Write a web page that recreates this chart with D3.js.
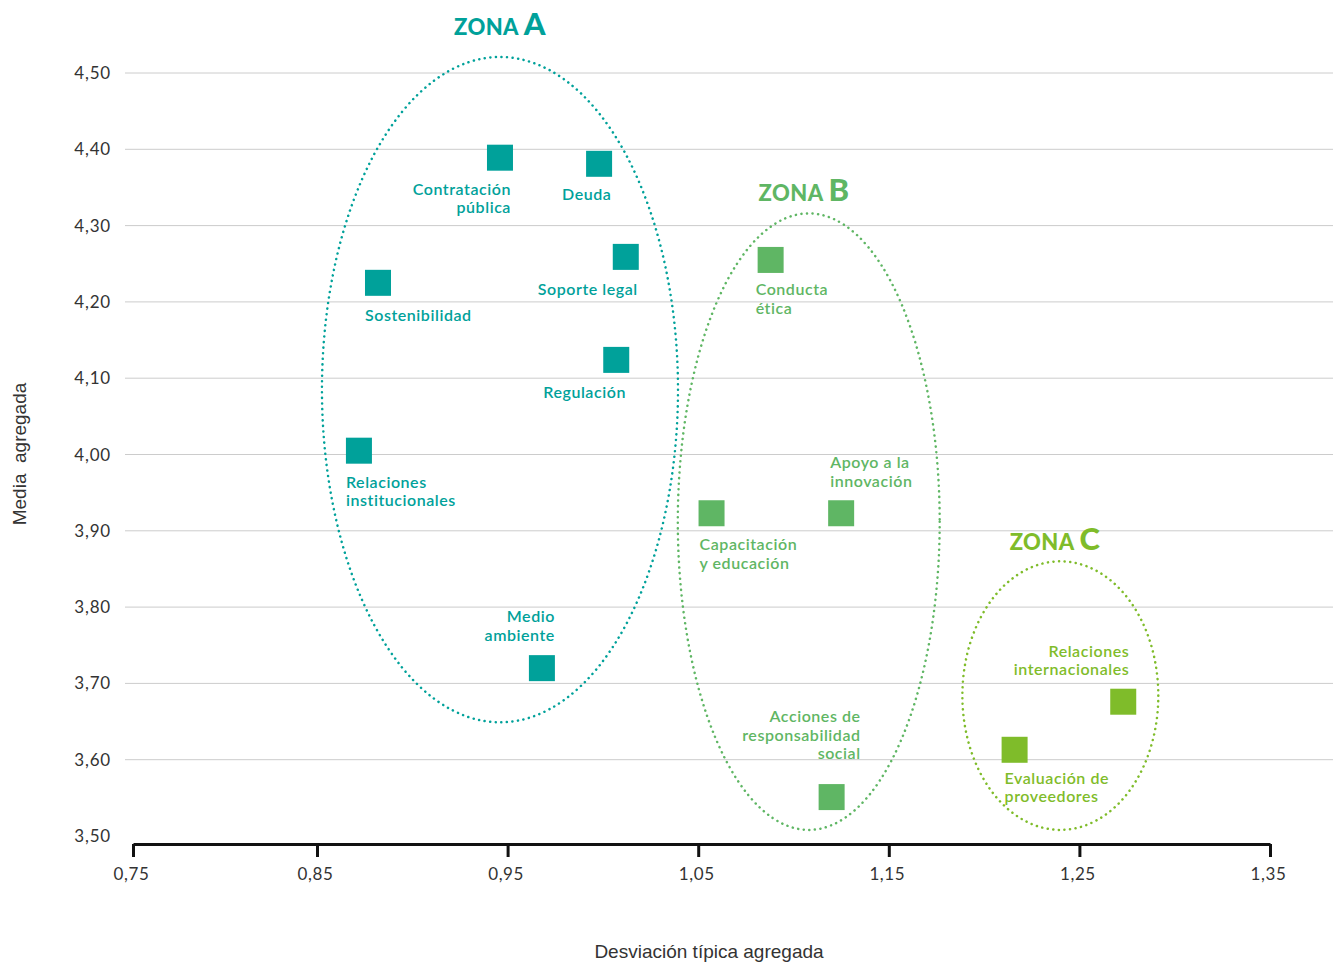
<!DOCTYPE html>
<html>
<head>
<meta charset="utf-8">
<script src="https://cdn.jsdelivr.net/npm/d3@7"></script>
<style>
  body { margin: 0; background: #fff; }
  svg { font-family: Lato, "Open Sans", sans-serif; }
</style>
</head>
<body>
<svg id="chart" width="1337" height="964"></svg>
<script>
// data
const names = ["Contratación pública", "Deuda", "Soporte legal", "Sostenibilidad", "Regulación",
    "Relaciones institucionales", "Medio ambiente", "Conducta ética", "Capacitación y educación",
    "Apoyo a la innovación", "Acciones de responsabilidad social", "Relaciones internacionales",
    "Evaluación de proveedores"]
const desviacion = [0.946, 0.998, 1.012, 0.882, 1.007, 0.872, 0.968, 1.088, 1.057, 1.125, 1.120, 1.273, 1.216]
const media = [4.389, 4.381, 4.259, 4.225, 4.124, 4.005, 3.720, 4.255, 3.923, 3.923, 3.551, 3.676, 3.613]
const zonaDe = ["A", "A", "A", "A", "A", "A", "A", "B", "B", "B", "B", "C", "C"]

const zonas = ["A", "B", "C"]
const zonaCx = [0.946, 1.108, 1.240]
const zonaCy = [4.085, 3.912, 3.684]
const zonaRx = [0.0934, 0.0687, 0.0514]
const zonaRy = [0.436, 0.404, 0.176]

const xTicks = [0.75, 0.85, 0.95, 1.05, 1.15, 1.25, 1.35]
const yTicks = [3.5, 3.6, 3.7, 3.8, 3.9, 4.0, 4.1, 4.2, 4.3, 4.4, 4.5]

const colors = {A: "#00a19a", B: "#5fb664", C: "#7fbc2a"}

// label lines and placement, relative to each square
const labelLines = [
    ["Contratación", "pública"], ["Deuda"], ["Soporte legal"], ["Sostenibilidad"], ["Regulación"],
    ["Relaciones", "institucionales"], ["Medio", "ambiente"], ["Conducta", "ética"],
    ["Capacitación", "y educación"], ["Apoyo a la", "innovación"],
    ["Acciones de", "responsabilidad", "social"], ["Relaciones", "internacionales"],
    ["Evaluación de", "proveedores"]
]
const labelPos = [
    {dx: 11, dy: 32, anchor: "end"}, {dx: -37, dy: 31, anchor: "start"}, {dx: -88, dy: 33, anchor: "start"},
    {dx: -13, dy: 33, anchor: "start"}, {dx: -73, dy: 33, anchor: "start"}, {dx: -13, dy: 32, anchor: "start"},
    {dx: 13, dy: -51, anchor: "end"}, {dx: -15, dy: 30, anchor: "start"}, {dx: -12, dy: 32, anchor: "start"},
    {dx: -11, dy: -50, anchor: "start"}, {dx: 29, dy: -80, anchor: "end"}, {dx: 6, dy: -50, anchor: "end"},
    {dx: -10, dy: 29, anchor: "start"}
]
const zonaTitlePos = [{x: 500, y: 35}, {x: 804, y: 201}, {x: 1055, y: 550}]

const svg = d3.select("#chart")
const fmt = v => d3.format(".2f")(v).replace(".", ",")

// the first interval of the original axis is a bit shorter than the others
const x = d3.scaleLinear().domain([0.75, 0.85, 1.35]).range([133, 317, 1270])
const y = d3.scaleLinear().domain([3.5, 4.5]).range([836, 73])

// gridlines + y labels
svg.append("g")
    .selectAll("line")
    .data(yTicks.filter(d => d > 3.5))
    .join("line")
    .attr("x1", 125).attr("x2", 1333)
    .attr("y1", d => y(d)).attr("y2", d => y(d))
    .attr("stroke", "#cccccc").attr("stroke-width", 1)

svg.append("g")
    .selectAll("text")
    .data(yTicks)
    .join("text")
    .attr("x", 111)
    .attr("y", d => y(d) + 6)
    .attr("text-anchor", "end")
    .attr("font-size", 17)
    .attr("letter-spacing", 0.8)
    .attr("fill", "#333")
    .text(fmt)

// x axis
let gAxis = svg.append("g").attr("transform", "translate(0,844)")
gAxis.call(d3.axisBottom(x).tickValues(xTicks).tickSize(13).tickSizeOuter(0).tickFormat(fmt))
gAxis.select(".domain").attr("stroke", "#111").attr("stroke-width", 3)
gAxis.selectAll(".tick line").attr("stroke", "#111").attr("stroke-width", 3)
gAxis.selectAll(".tick text")
    .attr("y", 24)
    .attr("dx", -2)
    .attr("font-size", 17)
    .attr("letter-spacing", 0.6)
    .attr("font-family", "Lato, 'Open Sans', sans-serif")
    .attr("fill", "#333")

// axis titles
svg.append("text")
    .attr("x", 709).attr("y", 958)
    .attr("text-anchor", "middle")
    .attr("font-family", "'Liberation Sans', Arial, sans-serif")
    .attr("font-size", 19)
    .attr("fill", "#333")
    .text("Desviación típica agregada")

svg.append("text")
    .attr("transform", "translate(26,454) rotate(-90)")
    .attr("text-anchor", "middle")
    .attr("font-family", "'Liberation Sans', Arial, sans-serif")
    .attr("font-size", 19)
    .attr("fill", "#333")
    .attr("xml:space", "preserve")
    .text("Media  agregada")

// zone ellipses
svg.append("g")
    .selectAll("ellipse")
    .data(zonas)
    .join("ellipse")
    .attr("cx", (d, i) => x(zonaCx[i]))
    .attr("cy", (d, i) => y(zonaCy[i]))
    .attr("rx", (d, i) => x(zonaCx[i] + zonaRx[i]) - x(zonaCx[i]))
    .attr("ry", (d, i) => y(zonaCy[i]) - y(zonaCy[i] + zonaRy[i]))
    .attr("fill", "none")
    .attr("stroke", d => colors[d])
    .attr("stroke-width", 2.5)
    .attr("stroke-linecap", "round")
    .attr("stroke-dasharray", "0.1 5.5")

// zone titles
let titles = svg.append("g")
    .selectAll("text")
    .data(zonas)
    .join("text")
    .attr("x", (d, i) => zonaTitlePos[i].x)
    .attr("y", (d, i) => zonaTitlePos[i].y)
    .attr("text-anchor", "middle")
    .attr("fill", d => colors[d])
    .attr("font-weight", "900")
    .attr("letter-spacing", 0.4)
titles.append("tspan").attr("font-size", 22).text("ZONA ")
titles.append("tspan").attr("font-size", 31).text(d => d)

// squares
const sq = 26
svg.append("g")
    .selectAll("rect")
    .data(names)
    .join("rect")
    .attr("x", (d, i) => x(desviacion[i]) - sq / 2)
    .attr("y", (d, i) => y(media[i]) - sq / 2)
    .attr("width", sq).attr("height", sq)
    .attr("fill", (d, i) => colors[zonaDe[i]])

// labels
svg.append("g")
    .selectAll("text")
    .data(names)
    .join("text")
    .attr("text-anchor", (d, i) => labelPos[i].anchor)
    .attr("font-size", 16)
    .attr("letter-spacing", 0.55)
    .attr("font-weight", "600")
    .attr("fill", (d, i) => colors[zonaDe[i]])
    .each(function (d, i) {
        let cx = x(desviacion[i]) + labelPos[i].dx
        let cy = y(media[i]) + labelPos[i].dy + 5
        d3.select(this).selectAll("tspan")
            .data(labelLines[i])
            .join("tspan")
            .attr("x", cx)
            .attr("y", (l, j) => cy + j * 18.7)
            .text(l => l)
    })
</script>
</body>
</html>
